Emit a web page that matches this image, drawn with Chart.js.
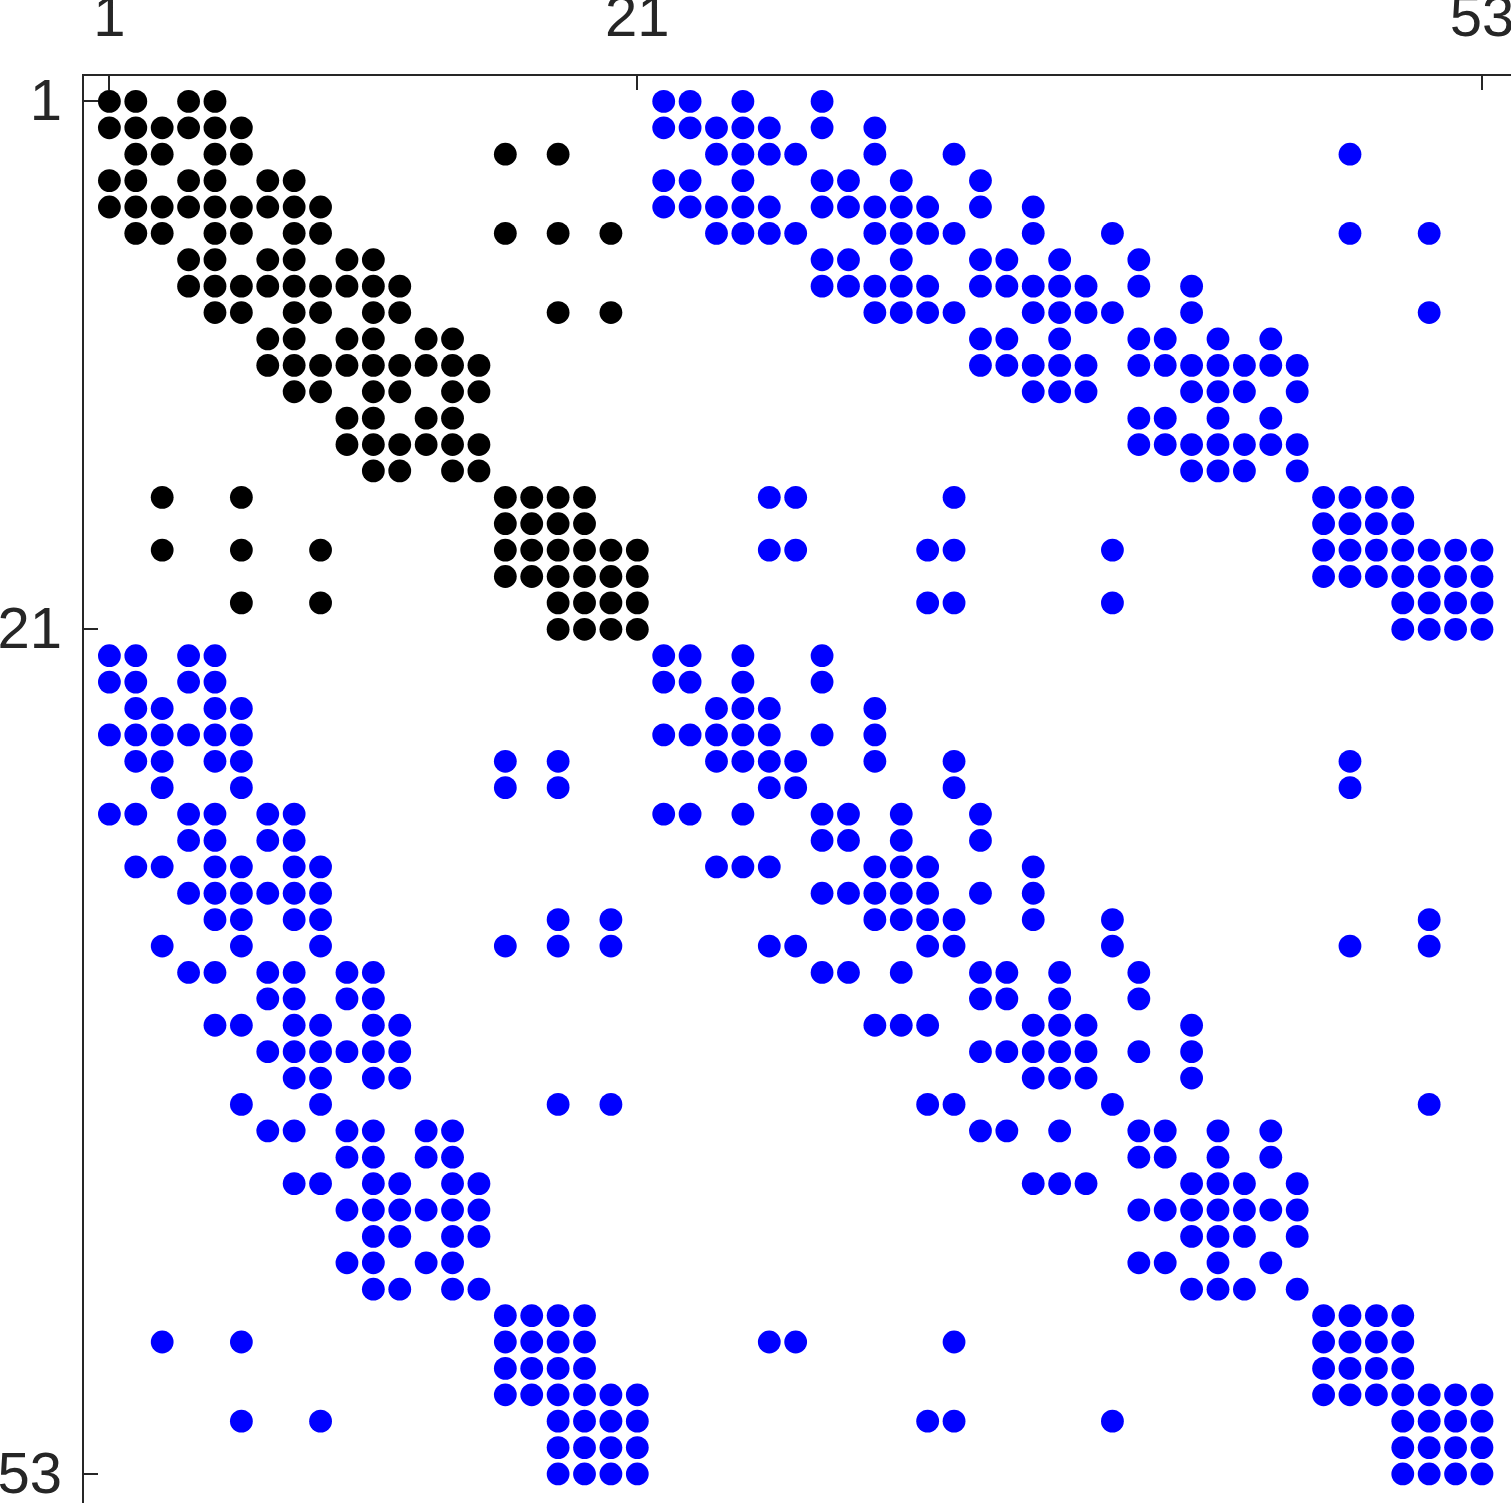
<!DOCTYPE html>
<html>
<head>
<meta charset="utf-8">
<script src="https://cdn.jsdelivr.net/npm/chart.js@4.4.0/dist/chart.umd.min.js"></script>
<style>
html,body{margin:0;padding:0;background:#fff;overflow:hidden}
#wrap{position:relative;width:1511px;height:1503px}
</style>
</head>
<body>
<div id="wrap"><canvas id="c" width="1511" height="1503"></canvas></div>
<script>
// Tick values / labels
const tickValues = [1, 21, 53];
const tickLabels = ['1', '21', '53'];

// Nonzero columns per row, rows 1..21 (leading 21x21 block, black)
const blackRows = [
  [1,2,4,5],
  [1,2,3,4,5,6],
  [2,3,5,6,16,18],
  [1,2,4,5,7,8],
  [1,2,3,4,5,6,7,8,9],
  [2,3,5,6,8,9,16,18,20],
  [4,5,7,8,10,11],
  [4,5,6,7,8,9,10,11,12],
  [5,6,8,9,11,12,18,20],
  [7,8,10,11,13,14],
  [7,8,9,10,11,12,13,14,15],
  [8,9,11,12,14,15],
  [10,11,13,14],
  [10,11,12,13,14,15],
  [11,12,14,15],
  [3,6,16,17,18,19],
  [16,17,18,19],
  [3,6,9,16,17,18,19,20,21],
  [16,17,18,19,20,21],
  [6,9,18,19,20,21],
  [18,19,20,21]
];

// Nonzero columns per row, rows 1..53 (all other entries, blue)
const blueRows = [
  [22,23,25,28],
  [22,23,24,25,26,28,30],
  [24,25,26,27,30,33,48],
  [22,23,25,28,29,31,34],
  [22,23,24,25,26,28,29,30,31,32,34,36],
  [24,25,26,27,30,31,32,33,36,39,48,51],
  [28,29,31,34,35,37,40],
  [28,29,30,31,32,34,35,36,37,38,40,42],
  [30,31,32,33,36,37,38,39,42,51],
  [34,35,37,40,41,43,45],
  [34,35,36,37,38,40,41,42,43,44,45,46],
  [36,37,38,42,43,44,46],
  [40,41,43,45],
  [40,41,42,43,44,45,46],
  [42,43,44,46],
  [26,27,33,47,48,49,50],
  [47,48,49,50],
  [26,27,32,33,39,47,48,49,50,51,52,53],
  [47,48,49,50,51,52,53],
  [32,33,39,50,51,52,53],
  [50,51,52,53],
  [1,2,4,5,22,23,25,28],
  [1,2,4,5,22,23,25,28],
  [2,3,5,6,24,25,26,30],
  [1,2,3,4,5,6,22,23,24,25,26,28,30],
  [2,3,5,6,16,18,24,25,26,27,30,33,48],
  [3,6,16,18,26,27,33,48],
  [1,2,4,5,7,8,22,23,25,28,29,31,34],
  [4,5,7,8,28,29,31,34],
  [2,3,5,6,8,9,24,25,26,30,31,32,36],
  [4,5,6,7,8,9,28,29,30,31,32,34,36],
  [5,6,8,9,18,20,30,31,32,33,36,39,51],
  [3,6,9,16,18,20,26,27,32,33,39,48,51],
  [4,5,7,8,10,11,28,29,31,34,35,37,40],
  [7,8,10,11,34,35,37,40],
  [5,6,8,9,11,12,30,31,32,36,37,38,42],
  [7,8,9,10,11,12,34,35,36,37,38,40,42],
  [8,9,11,12,36,37,38,42],
  [6,9,18,20,32,33,39,51],
  [7,8,10,11,13,14,34,35,37,40,41,43,45],
  [10,11,13,14,40,41,43,45],
  [8,9,11,12,14,15,36,37,38,42,43,44,46],
  [10,11,12,13,14,15,40,41,42,43,44,45,46],
  [11,12,14,15,42,43,44,46],
  [10,11,13,14,40,41,43,45],
  [11,12,14,15,42,43,44,46],
  [16,17,18,19,47,48,49,50],
  [3,6,16,17,18,19,26,27,33,47,48,49,50],
  [16,17,18,19,47,48,49,50],
  [16,17,18,19,20,21,47,48,49,50,51,52,53],
  [6,9,18,19,20,21,32,33,39,50,51,52,53],
  [18,19,20,21,50,51,52,53],
  [18,19,20,21,50,51,52,53]
];

const axisMin = 0;
const axisMax = 54.1;

function toPoints(rows) {
  const pts = [];
  rows.forEach((cols, i) => cols.forEach(c => pts.push({x: c, y: i + 1})));
  return pts;
}

const FONT = {family: '"Liberation Sans", Arial, Helvetica, sans-serif', size: 58};
const AXIS_COLOR = '#262626';

const inwardTicks = {
  id: 'inwardTicks',
  beforeDatasetsDraw(chart) {
    const {ctx, chartArea: a, scales: {x, y}} = chart;
    ctx.save();
    ctx.strokeStyle = AXIS_COLOR;
    ctx.lineWidth = 2;
    ctx.beginPath();
    tickValues.forEach(v => {
      const px = Math.round(x.getPixelForValue(v));
      ctx.moveTo(px, a.top);
      ctx.lineTo(px, a.top + 15);
      const py = Math.round(y.getPixelForValue(v));
      ctx.moveTo(a.left, py);
      ctx.lineTo(a.left + 15, py);
    });
    ctx.stroke();
    ctx.restore();
  }
};

function fixTicks(scale) {
  scale.ticks = tickValues.map(v => ({value: v}));
}
function labelFor(v) {
  const i = tickValues.indexOf(v);
  return i >= 0 ? tickLabels[i] : '';
}
function zeroPad(s) {
  s.paddingLeft = 0; s.paddingRight = 0; s.paddingTop = 0; s.paddingBottom = 0;
}

new Chart(document.getElementById('c'), {
  type: 'scatter',
  data: {
    datasets: [
      {data: toPoints(blackRows), backgroundColor: '#000000', borderWidth: 0, pointRadius: 11.4, pointHoverRadius: 11.4},
      {data: toPoints(blueRows), backgroundColor: '#0000ff', borderWidth: 0, pointRadius: 11.4, pointHoverRadius: 11.4}
    ]
  },
  options: {
    responsive: false,
    animation: false,
    events: [],
    layout: {padding: 0, autoPadding: false},
    plugins: {legend: {display: false}, tooltip: {enabled: false}},
    clip: false,
    scales: {
      x: {
        type: 'linear', position: 'top', min: axisMin, max: axisMax,
        afterBuildTicks: fixTicks,
        afterFit: s => { s.height = 75; zeroPad(s); },
        ticks: {callback: labelFor, font: FONT, color: AXIS_COLOR, padding: 20, maxRotation: 0, autoSkip: false},
        grid: {display: false, drawTicks: false},
        border: {display: true, color: AXIS_COLOR, width: 2}
      },
      y: {
        type: 'linear', position: 'left', reverse: true, min: axisMin, max: axisMax,
        afterBuildTicks: fixTicks,
        afterFit: s => { s.width = 83; zeroPad(s); },
        ticks: {callback: labelFor, font: FONT, color: AXIS_COLOR, padding: 21, labelOffset: 3, autoSkip: false},
        grid: {display: false, drawTicks: false},
        border: {display: true, color: AXIS_COLOR, width: 2}
      }
    }
  },
  plugins: [inwardTicks]
});
</script>
</body>
</html>
